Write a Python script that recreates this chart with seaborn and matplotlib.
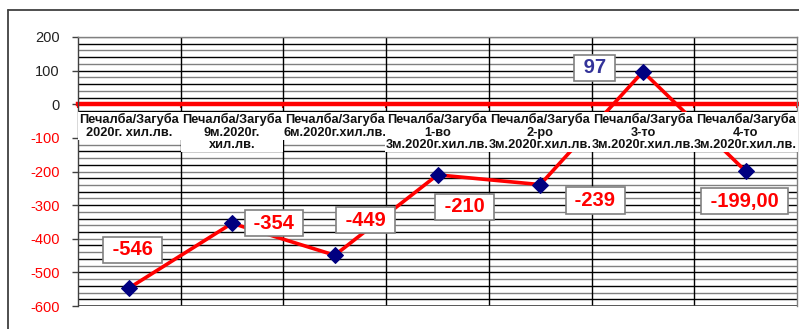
import numpy as np
import pandas as pd
import matplotlib
matplotlib.use("Agg")
import matplotlib.pyplot as plt
from matplotlib.lines import Line2D
import seaborn as sns

categories = [
    "Печалба/Загуба\n2020г. хил.лв.",
    "Печалба/Загуба\n9м.2020г.\nхил.лв.",
    "Печалба/Загуба\n6м.2020г.хил.лв.",
    "Печалба/Загуба\n1-во\n3м.2020г.хил.лв.",
    "Печалба/Загуба\n2-ро\n3м.2020г.хил.лв.",
    "Печалба/Загуба\n3-то\n3м.2020г.хил.лв.",
    "Печалба/Загуба\n4-то\n3м.2020г.хил.лв.",
]
values = [-546, -354, -449, -210, -239, 97, -199]
value_labels = ["-546", "-354", "-449", "-210", "-239", "97", "-199,00"]
y_ticks = [-600, -500, -400, -300, -200, -100, 0, 100, 200]

# label offsets (pixels, right/up positive)
label_offsets_px = [(3, 38), (42, 0), (31, 35), (27, -32), (55, -16), (-48, 4), (-1, -30)]

sns.set_theme(style="white")
plt.rcParams["font.family"] = ["Liberation Sans", "DejaVu Sans"]

W, H = 799, 329
fig = plt.figure(figsize=(W / 100, H / 100), dpi=100)
ax = fig.add_axes([78 / W, (H - 306) / H, (797 - 78) / W, (306 - 37) / H])

df = pd.DataFrame({"x": np.arange(len(values)), "y": values})

# gridlines every 20
for k, yv in enumerate(np.arange(-600, 201, 20)):
    if yv == 0:
        continue
    ax.axhline(yv, color="#000000" if k % 2 else "#808080", lw=1.0, zorder=1)
for xv in np.arange(0.5, len(values) - 0.5, 1):
    ax.axvline(xv, color="#000000", lw=1.0, zorder=1)

sns.lineplot(data=df, x="x", y="y", ax=ax, color="#FF0000", lw=2.6,
             marker="D", markersize=8.5, markerfacecolor="#000080",
             markeredgecolor="#000080", zorder=3, legend=False)

ax.set_xlim(-0.5, len(values) - 0.5)
ax.set_ylim(-600, 200)
ax.set_yticks(y_ticks)
ax.set_yticklabels([str(v) for v in y_ticks])
for lbl, v in zip(ax.get_yticklabels(), y_ticks):
    lbl.set_color("#FF0000" if v < 0 else "#222222")
ax.tick_params(axis="y", which="major", length=4, width=1, color="#404040",
               labelsize=10.5, pad=9, left=True)
ax.set_xticks(np.arange(-0.5, len(values), 1))
ax.set_xticklabels([])
ax.tick_params(axis="x", which="major", length=3, width=1.5, color="#FF0000", bottom=True)
ax.set_xlabel("")
ax.set_ylabel("")

for s in ["top", "right"]:
    ax.spines[s].set_color("#808080")
    ax.spines[s].set_linewidth(1.0)
ax.spines["left"].set_color("#404040")
ax.spines["left"].set_linewidth(1.0)
ax.spines["bottom"].set_position(("data", 0))
ax.spines["bottom"].set_color("#FF0000")
ax.spines["bottom"].set_linewidth(3.2)
ax.spines["bottom"].set_zorder(2)
# bottom border of plot
ax.axhline(-600, color="#404040", lw=1.2, zorder=1)

# category labels
for i, c in enumerate(categories):
    ax.annotate(c, xy=(i, 0), xytext=(0, -6.5), textcoords="offset points",
                ha="center", va="top", multialignment="center",
                fontsize=9.2, fontweight="bold", color="#111111", linespacing=1.05,
                bbox=dict(boxstyle="square,pad=0.1", fc="white", ec="none"),
                zorder=5, annotation_clip=False)

# value labels
for i, (v, t, (dx, dy)) in enumerate(zip(values, value_labels, label_offsets_px)):
    col = "#333399" if v > 0 else "#FF0000"
    ax.annotate(" " + t + " ", xy=(i, v), xytext=(dx * 0.72, dy * 0.72),
                textcoords="offset points", ha="center", va="center",
                fontsize=14.5, fontweight="bold", color=col,
                bbox=dict(boxstyle="square,pad=0.18", fc="white", ec="#808080", lw=1.2),
                zorder=6)

# outer chart frame
fig.add_artist(Line2D([8 / W, 1.0], [1 - 10 / H, 1 - 10 / H], transform=fig.transFigure,
                      color="#404040", lw=1.3))
fig.add_artist(Line2D([8 / W, 8 / W], [0, 1 - 10 / H], transform=fig.transFigure,
                      color="#404040", lw=1.3))

fig.savefig("out.png", dpi=100)
